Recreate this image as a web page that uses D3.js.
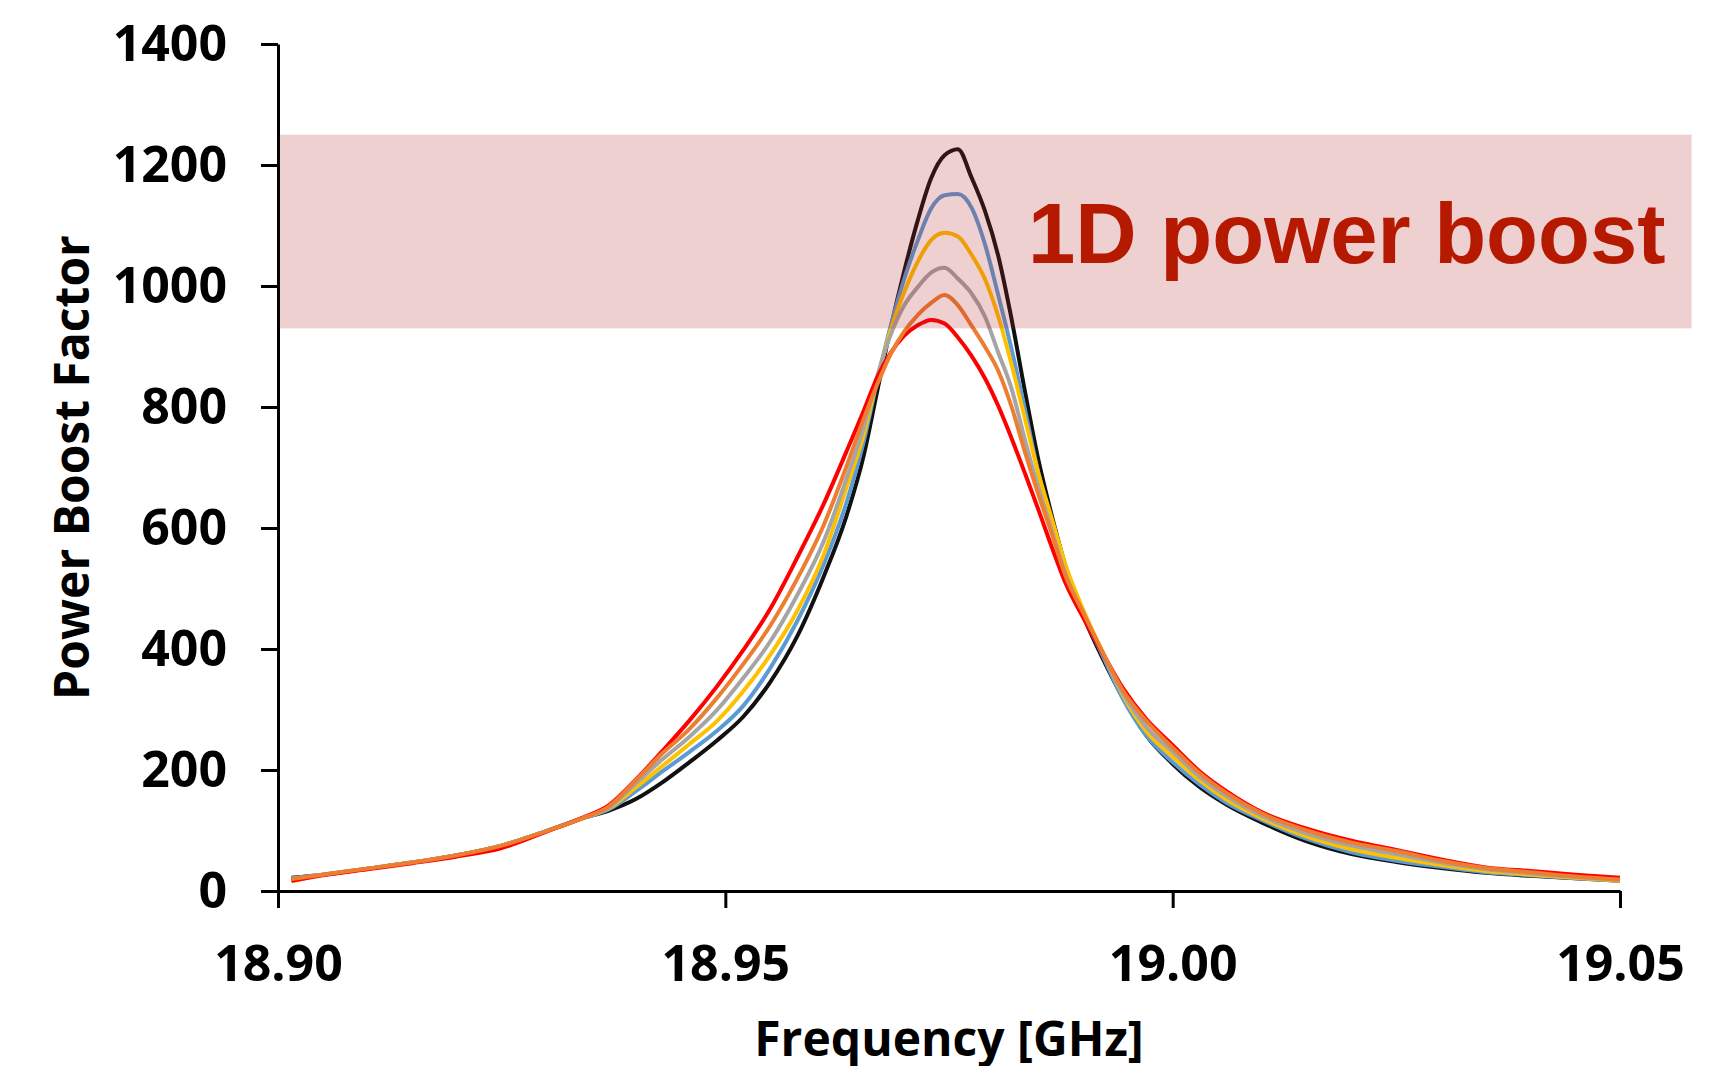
<!DOCTYPE html>
<html>
<head>
<meta charset="utf-8">
<script src="https://cdn.jsdelivr.net/npm/d3@7"></script>
<style>
  html, body { margin: 0; padding: 0; background: #fff; }
  .axis path, .axis line { stroke: #000; stroke-width: 3px; }
  .axis text { font-family: "Open Sans", sans-serif; font-weight: 700; font-size: 50px; fill: #000; }
</style>
</head>
<body>
<div class="boost_plot"></div>
<script>
// frequency grid [GHz]
const freqs = [18.9015, 18.905, 18.910, 18.915, 18.920, 18.925, 18.930, 18.934, 18.937, 18.940,
               18.943, 18.946, 18.949, 18.952, 18.955, 18.958, 18.961, 18.9635, 18.9655, 18.967,
               18.9685, 18.970, 18.9715, 18.973, 18.9745, 18.976, 18.9775, 18.979, 18.9805, 18.982,
               18.9835, 18.985, 18.9865, 18.988, 18.990, 18.992, 18.9945, 18.997, 19.000, 19.003,
               19.006, 19.010, 19.015, 19.020, 19.025, 19.030, 19.035, 19.040, 19.045, 19.050];

// power boost factor, one array per curve
const black  = [22,27,37,47,59,75,99,120,133,152, 180,213,248,288,345,420,520,618,722,828,
                932,1025,1108,1178,1216,1226,1180,1125,1050,945, 825,712,620,538,455,390,318,258,210,172,
                143,113,82,61,48,38,30,25,21,17];
const blue   = [21,27,37,47,59,75,99,120,135,165, 198,230,264,306,368,445,540,640,745,845,
                935,1012,1075,1128,1150,1152,1130,1070,985,895, 795,690,610,532,457,395,316,258,213,176,
                146,117,86,64,50,40,31,26,21,17];
const gold   = [16,27,37,47,59,75,99,120,137,171, 207,243,280,330,390,462,556,665,756,848,
                928,990,1040,1076,1088,1082,1052,1012,950,870, 780,690,615,540,465,400,322,265,222,183,
                151,120,90,69,55,43,33,27,22,17];
const gray   = [20,27,37,47,59,75,99,120,138,178, 218,255,298,352,412,488,578,680,768,852,
                920,968,998,1022,1030,1012,988,950,890,830, 745,665,595,525,458,398,325,272,230,189,
                157,124,95,75,61,47,36,29,23,18];
const orange = [20,27,37,47,59,75,99,120,140,183, 228,268,318,375,438,515,605,700,782,838,
                888,925,952,972,985,968,935,900,860,800, 725,655,590,522,460,400,330,282,237,195,
                162,128,100,80,66,50,38,31,24,19];
const red    = [17,26,36,46,57,71,98,121,142,184, 232,282,337,398,466,550,640,725,795,850,
                890,918,935,944,938,915,885,848,802,748, 690,630,568,510,452,398,334,285,241,198,
                165,130,103,83,68,52,39,33,27,22];

const xTicks = [18.90, 18.95, 19.00, 19.05];
const yTicks = [0, 200, 400, 600, 800, 1000, 1200, 1400];

// highlighted band
const bandLow = 930, bandHigh = 1250, bandEnd = 19.058;

const series = [
    {name: 'black',  values: black,  color: '#111111'},
    {name: 'blue',   values: blue,   color: '#5B9BD5'},
    {name: 'gold',   values: gold,   color: '#FFC000'},
    {name: 'gray',   values: gray,   color: '#A5A5A5'},
    {name: 'red',    values: red,    color: '#FF0000'},
    {name: 'orange', values: orange, color: '#ED7D31'}
];

const W = 1727, H = 1066;
const margin = {top: 44, right: 107, bottom: 175, left: 278};
const width = W - margin.left - margin.right,
      height = H - margin.top - margin.bottom;

const xScale = d3.scaleLinear()
                 .domain([18.90, 19.05])
                 .range([0, width]);
const yScale = d3.scaleLinear()
                 .domain([0, 1400])
                 .range([height, 0]);

const svg = d3.select('.boost_plot')
              .append('svg')
              .attr('width', W)
              .attr('height', H)
              .append('g')
              .attr('transform', 'translate(' + margin.left + ',' + margin.top + ')');

const line = d3.line()
               .x((d, i) => xScale(freqs[i]))
               .y(d => yScale(d))
               .curve(d3.curveMonotoneX);

svg.selectAll('.curve')
   .data(series)
   .enter()
   .append('path')
   .attr('class', 'curve')
   .attr('d', d => line(d.values))
   .attr('fill', 'none')
   .attr('stroke', d => d.color)
   .attr('stroke-width', 4)
   .attr('stroke-linejoin', 'round');

const xAxis = d3.axisBottom(xScale)
                .tickValues(xTicks)
                .tickFormat(d3.format('.2f'))
                .tickSize(17)
                .tickSizeOuter(0)
                .tickPadding(37);
const yAxis = d3.axisLeft(yScale)
                .tickValues(yTicks)
                .tickFormat(d3.format('d'))
                .tickSize(17)
                .tickSizeOuter(0)
                .tickPadding(34);

svg.append('g')
   .attr('class', 'axis x-axis')
   .attr('transform', `translate(0, ${height})`)
   .call(xAxis);

svg.append('g')
   .attr('class', 'axis y-axis')
   .call(yAxis);

// pink band drawn over the curves
svg.append('rect')
   .attr('x', xScale(18.90) + 1.5)
   .attr('y', yScale(bandHigh))
   .attr('width', xScale(bandEnd) - xScale(18.90) - 1.5)
   .attr('height', yScale(bandLow) - yScale(bandHigh))
   .attr('fill', 'rgb(178,34,34)')
   .attr('fill-opacity', 0.21);

svg.append('text')
   .attr('x', 750)
   .attr('y', 219)
   .attr('font-family', '"Liberation Sans", Arial, sans-serif')
   .attr('font-weight', 700)
   .attr('font-size', 85)
   .attr('fill', '#b51a00')
   .text('1D power boost');

svg.append('text')
   .attr('x', width / 2)
   .attr('y', 1056 - margin.top)
   .attr('text-anchor', 'middle')
   .attr('font-family', '"Open Sans", sans-serif')
   .attr('font-weight', 700)
   .attr('font-size', 48)
   .text('Frequency [GHz]');

svg.append('text')
   .attr('transform', `translate(${70 - margin.left}, ${height / 2}) rotate(-90)`)
   .attr('text-anchor', 'middle')
   .attr('dominant-baseline', 'central')
   .attr('font-family', '"Open Sans", sans-serif')
   .attr('font-weight', 700)
   .attr('font-size', 48)
   .text('Power Boost Factor');
</script>
</body>
</html>
